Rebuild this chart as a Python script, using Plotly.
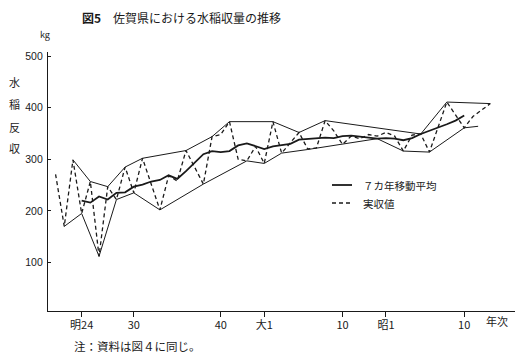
import plotly.graph_objects as go

# ---- data ----
years = list(range(1888, 1939))
actual = [271, 170, 299, 195, 257, 112, 247, 222, 285, 235,
          302, 252, 202, 268, 258, 317, 285, 252, 344, 348,
          373, 300, 297, 325, 292, 373, 312, 332, 352, 320,
          322, 375, 355, 329, 345, 340, 348, 345, 352, 345,
          316, 347, 349, 314, 362, 411, 386, 361, 383, 396,
          408]

ma_years = list(range(1891, 1936))
ma_vals = [220, 216, 228, 222, 235, 236, 247, 251, 257, 260,
           269, 262, 277, 294, 310, 316, 314, 316, 327, 331,
           326, 320, 325, 328, 330, 338, 339, 340, 342, 341,
           345, 346, 344, 342, 340, 341, 340, 337, 341, 349,
           355, 361, 368, 375, 385]

upper_years = [1890, 1892, 1894, 1896, 1898, 1903, 1906, 1908, 1913, 1916, 1919, 1930, 1933, 1938]
upper_vals = [299, 257, 247, 285, 302, 317, 344, 373, 373, 352, 375, 349, 411, 408]

lower_years = [1889, 1891, 1893, 1895, 1897, 1900, 1905, 1910, 1912, 1914, 1917, 1921, 1925, 1928, 1931, 1935, 1936.6]
lower_vals = [170, 195, 112, 222, 235, 202, 252, 297, 292, 312, 319, 329, 340, 316, 314, 361, 364]

tick_years = [1891, 1897, 1907, 1912, 1921, 1926, 1935]
tick_labels = ["明24", "30", "40", "大1", "10", "昭1", "10"]
y_ticks = [100, 200, 300, 400, 500]

# ---- layout geometry (page body has an 8px margin) ----
OFF = 8
W, H = 525 - OFF, 358 - OFF
L, R, T, B = 48 - OFF, 10, 52 - OFF, 55 - OFF
PW, PH = W - L - R, H - T - B
JP = "Noto Sans CJK JP"
INK = "#1a1a1a"


def px(xp, yp):
    # reference-window pixel -> paper coords
    xp -= OFF
    yp -= OFF
    return (xp - L) / PW, (H - B - yp) / PH


fig = go.Figure()
fig.add_trace(go.Scatter(x=upper_years, y=upper_vals, mode="lines",
                         line=dict(color=INK, width=1), showlegend=False))
fig.add_trace(go.Scatter(x=lower_years, y=lower_vals, mode="lines",
                         line=dict(color=INK, width=1), showlegend=False))
fig.add_trace(go.Scatter(x=years, y=actual, mode="lines",
                         line=dict(color=INK, width=1.3, dash="4px,3px"),
                         showlegend=False))
fig.add_trace(go.Scatter(x=ma_years, y=ma_vals, mode="lines",
                         line=dict(color=INK, width=1.8), showlegend=False))

ann = []


def text(xp, yp, s, size=11, anchor="left", family=JP):
    xx, yy = px(xp, yp)
    ann.append(dict(x=xx, y=yy, xref="paper", yref="paper", text=s,
                    showarrow=False, xanchor=anchor, yanchor="middle",
                    font=dict(family=family, size=size, color=INK)))


text(80, 17, "<b>図5</b>　佐賀県における水稲収量の推移", size=12)
text(45, 35, "kg", size=9, anchor="center")
for ch, yy in zip("水稲反収", [82, 104, 127, 148]):
    text(14, yy, ch, size=11, anchor="center")
text(484, 321, "年次", size=11)
text(72, 346, "注：資料は図４に同じ。", size=11.5)
text(361, 185, "７カ年移動平均", size=10.5)
text(361, 203, "実収値", size=10.5)

shapes = []
for yy, dash, w in [(185, "solid", 1.8), (203, "4px,3px", 1.3)]:
    x0, y0 = px(332, yy)
    x1, _ = px(352, yy)
    shapes.append(dict(type="line", xref="paper", yref="paper", x0=x0, x1=x1,
                       y0=y0, y1=y0, line=dict(color=INK, width=w, dash=dash)))

fig.update_layout(
    width=W, height=H, margin=dict(l=L, r=R, t=T, b=B, autoexpand=False),
    paper_bgcolor="white", plot_bgcolor="white",
    annotations=ann, shapes=shapes,
    xaxis=dict(range=[1887.13, 1940.84], showgrid=False, zeroline=False,
               showline=True, linecolor=INK, linewidth=1.2,
               ticks="outside", ticklen=5, tickwidth=1, tickcolor=INK,
               tickvals=tick_years, ticktext=tick_labels,
               ticklabelstandoff=-1,
               tickfont=dict(family=JP, size=11, color=INK)),
    yaxis=dict(range=[6, 508], showgrid=False, zeroline=False,
               showline=True, linecolor=INK, linewidth=1.2,
               ticks="inside", ticklen=3, tickwidth=1, tickcolor=INK,
               tickvals=y_ticks, ticklabelstandoff=2,
               tickfont=dict(family="Liberation Sans", size=10.5, color=INK)),
)

fig.write_html("out.html")
